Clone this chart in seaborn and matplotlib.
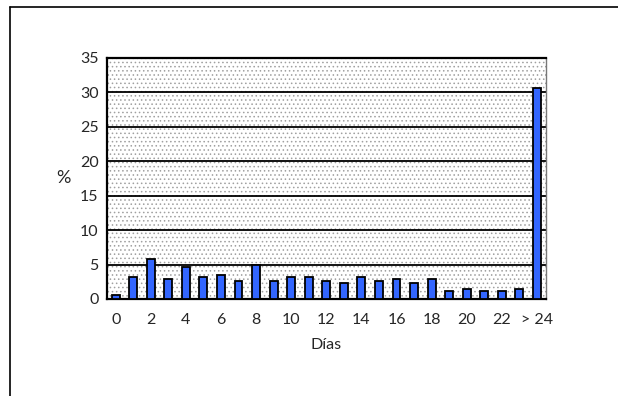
import matplotlib
matplotlib.use("Agg")
import matplotlib.pyplot as plt
import seaborn as sns
import pandas as pd
from matplotlib.lines import Line2D
from matplotlib.patches import Rectangle

# days on x, percent on y
dias = [str(i) for i in range(24)] + ["> 24"]
pct = [0.6, 3.2, 5.8, 2.9, 4.6, 3.2, 3.5, 2.6, 4.9, 2.6, 3.2, 3.2, 2.6,
       2.3, 3.2, 2.6, 2.9, 2.3, 2.9, 1.2, 1.5, 1.2, 1.2, 1.5, 30.6]
tick_labels = [d if i % 2 == 0 else "" for i, d in enumerate(dias)]

data = pd.DataFrame({"Dias": dias, "pct": pct})

sns.set_style("white")
plt.rcParams["font.family"] = ["Lato", "DejaVu Sans"]
plt.rcParams["hatch.color"] = "#a0a0a0"
plt.rcParams["hatch.linewidth"] = 0.6

fig = plt.figure(figsize=(6.18, 3.96), dpi=100)
ax = fig.add_axes([0.173, 0.245, 0.71, 0.609])

# dotted background
ax.add_patch(Rectangle((0, 0), 1, 1, transform=ax.transAxes, facecolor="white",
                       edgecolor="#a0a0a0", hatch="....", linewidth=0, zorder=0))

sns.barplot(data=data, x="Dias", y="pct", color="#3366ff", saturation=1,
            width=0.45, edgecolor="black", linewidth=1.3, ax=ax, zorder=3)

ax.set_ylim(0, 35)
ax.set_xlim(-0.5, 24.5)
ax.set_yticks(range(0, 36, 5))
for y in range(5, 36, 5):
    ax.axhline(y, color="black", lw=1.3, zorder=2)

ax.set_xticks(range(25))
ax.set_xticklabels(tick_labels, fontsize=11.5)
ax.tick_params(axis="x", length=0, pad=10)
ax.set_xticks([i + 0.5 for i in range(-1, 25)], minor=True)
ax.tick_params(axis="x", which="minor", direction="in", length=3, width=1.2, color="black")
ax.tick_params(axis="y", direction="out", length=4, width=1.2, color="black", labelsize=11.5, pad=2)

for s in ["left", "bottom", "top"]:
    ax.spines[s].set_color("black")
    ax.spines[s].set_linewidth(1.6)
ax.spines["right"].set_color("#777777")
ax.spines["right"].set_linewidth(1)

ax.set_xlabel("Días", fontsize=11.5, labelpad=8)
ax.set_ylabel("%", fontsize=13, rotation=0, labelpad=12, va="center")

# outer frame lines (top and left only)
fig.add_artist(Line2D([10 / 618, 1], [1 - 7 / 396, 1 - 7 / 396], color="black", lw=1.2))
fig.add_artist(Line2D([10 / 618, 10 / 618], [0, 1 - 7 / 396], color="black", lw=1.2))

fig.savefig("out.png", dpi=100)
